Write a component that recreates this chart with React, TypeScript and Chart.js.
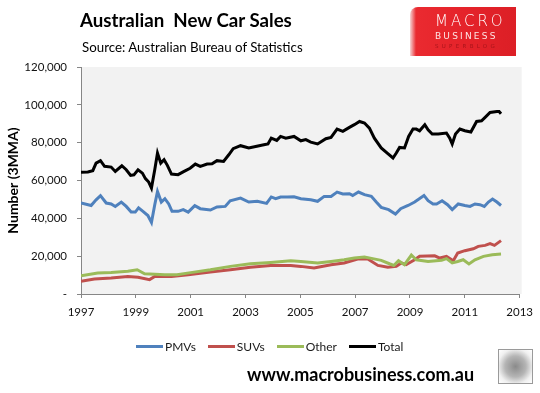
import React, { useEffect, useRef } from "react";
import { Chart, registerables } from "chart.js";

Chart.register(...registerables);

// ---- Data (3-month moving average) ----
const totalYears = [
  1997.0, 1997.25, 1997.43, 1997.55, 1997.71, 1997.86, 1998.1, 1998.25, 1998.49, 1998.65,
  1998.81, 1998.93, 1999.08, 1999.24, 1999.35, 1999.47, 1999.57, 1999.69, 1999.79, 1999.91,
  2000.03, 2000.15, 2000.3, 2000.54, 2000.76, 2000.98, 2001.17, 2001.35, 2001.6, 2001.78,
  2001.96, 2002.2, 2002.39, 2002.55, 2002.82, 2003.12, 2003.37, 2003.67, 2003.82, 2003.94,
  2004.14, 2004.28, 2004.47, 2004.77, 2005.02, 2005.2, 2005.38, 2005.63, 2005.93, 2006.12,
  2006.34, 2006.55, 2006.79, 2006.97, 2007.16, 2007.34, 2007.52, 2007.7, 2007.95, 2008.17,
  2008.38, 2008.5, 2008.62, 2008.8, 2008.95, 2009.11, 2009.23, 2009.35, 2009.54, 2009.66,
  2009.81, 2010.03, 2010.33, 2010.45, 2010.54, 2010.66, 2010.82, 2011.0, 2011.22, 2011.43,
  2011.61, 2011.74, 2011.92, 2012.17, 2012.25, 2012.32,
];
const totalValues = [
  64300, 64500, 65200, 69200, 70500, 67500, 67100, 64800, 67800, 65700,
  62700, 63000, 65700, 63900, 61000, 59200, 56000, 65700, 74500, 69200,
  71000, 68000, 63400, 63100, 64800, 66500, 68700, 67500, 68700, 68900,
  70500, 70100, 73600, 76800, 78400, 77200, 78000, 78900, 79300, 82400,
  81200, 83300, 82400, 83300, 81000, 81600, 80300, 79300, 82100, 82800,
  87200, 86000, 88100, 89500, 91200, 90400, 87700, 82400, 77200, 74500,
  71900, 74500, 77500, 77200, 83300, 87200, 87200, 86300, 89500, 86800,
  84600, 84600, 85100, 82400, 79300, 84600, 87200, 86300, 85600, 91200,
  91600, 93400, 96000, 96500, 96500, 95300,
];

const pmvYears = [
  1997.0, 1997.37, 1997.55, 1997.71, 1997.92, 1998.1, 1998.25, 1998.47, 1998.65, 1998.83,
  1998.98, 1999.1, 1999.26, 1999.44, 1999.57, 1999.69, 1999.79, 1999.93, 2000.06, 2000.2,
  2000.32, 2000.54, 2000.73, 2000.91, 2001.15, 2001.35, 2001.72, 2001.96, 2002.26, 2002.44,
  2002.82, 2003.12, 2003.43, 2003.77, 2003.94, 2004.1, 2004.28, 2004.53, 2004.77, 2005.02,
  2005.38, 2005.63, 2005.87, 2006.12, 2006.34, 2006.55, 2006.79, 2006.91, 2007.12, 2007.34,
  2007.59, 2007.77, 2007.95, 2008.22, 2008.47, 2008.66, 2008.93, 2009.17, 2009.51, 2009.66,
  2009.84, 2009.97, 2010.17, 2010.37, 2010.54, 2010.76, 2011.0, 2011.19, 2011.37, 2011.55,
  2011.71, 2011.86, 2012.01, 2012.17, 2012.32,
];
const pmvValues = [
  48100, 46800, 49800, 52000, 48100, 47600, 46300, 48600, 46300, 43300,
  43300, 45500, 43700, 41500, 37800, 47200, 54200, 48600, 50400, 47600,
  43700, 43700, 44600, 43300, 46700, 45100, 44400, 46000, 46300, 49300,
  50700, 48600, 49000, 47900, 51300, 50400, 51300, 51300, 51400, 50400,
  49800, 49000, 51600, 51600, 53900, 52900, 53000, 52100, 53900, 52500,
  51600, 48600, 45800, 44600, 42300, 45100, 46800, 48600, 52100, 49300,
  47600, 47600, 49300, 47200, 44600, 47600, 46800, 46300, 47600, 47200,
  46300, 48600, 50200, 48600, 46800,
];

const suvYears = [
  1997.0, 1997.49, 1998.1, 1998.71, 1999.08, 1999.5, 1999.69, 2000.3, 2000.91, 2001.72,
  2002.45, 2003.18, 2003.92, 2004.65, 2005.02, 2005.5, 2006.12, 2006.6, 2007.09, 2007.46,
  2007.83, 2008.19, 2008.5, 2008.68, 2008.86, 2009.17, 2009.35, 2009.9, 2010.09, 2010.33,
  2010.58, 2010.74, 2011.0, 2011.31, 2011.49, 2011.74, 2011.92, 2012.08, 2012.32,
];
const suvValues = [
  6700, 7900, 8500, 9300, 8800, 7600, 9300, 9300, 10200, 11600,
  12800, 14100, 15100, 15100, 14600, 13700, 15500, 16400, 18500, 18500,
  15100, 14100, 14600, 16400, 15500, 18100, 19900, 20200, 19000, 19900,
  17600, 21700, 22900, 23900, 25200, 25700, 26600, 25700, 28200,
];

const otherYears = [
  1997.0, 1997.61, 1998.1, 1998.71, 1999.05, 1999.32, 2000.06, 2000.5, 2001.0, 2001.72,
  2002.45, 2003.18, 2003.92, 2004.65, 2005.02, 2005.63, 2006.12, 2006.6, 2006.97, 2007.34,
  2007.64, 2007.95, 2008.25, 2008.41, 2008.58, 2008.8, 2009.05, 2009.23, 2009.66, 2010.15,
  2010.33, 2010.54, 2010.74, 2010.94, 2011.15, 2011.37, 2011.68, 2012.0, 2012.32,
];
const otherValues = [
  9700, 11100, 11400, 12000, 12800, 10700, 10200, 10200, 11300, 12800,
  14600, 16000, 16700, 17600, 17200, 16400, 17200, 18100, 19000, 19600,
  18700, 17800, 16000, 15100, 17600, 15500, 20600, 18100, 17200, 17800,
  18700, 16400, 17200, 18100, 15900, 18100, 19900, 20800, 21100,
];

const seriesNames = ["PMVs", "SUVs", "Other", "Total"];
const seriesColors = ["#4F81BD", "#C0504D", "#9BBB59", "#000000"];

const yMin = 0;
const yMax = 120000;
const yStep = 20000;
const xMin = 1997;
const xMax = 2013;
const xStep = 2;

const titleText = "Australian  New Car Sales";
const subtitleText = "Source: Australian Bureau of Statistics";
const yAxisTitle = "Number (3MMA)";
const siteText = "www.macrobusiness.com.au";

const FONT = "Lato, 'Open Sans', sans-serif";

function toPoints(xs: number[], ys: number[]) {
  return xs.map((x, i) => ({ x, y: ys[i] }));
}

const plotBg = {
  id: "plotBg",
  beforeDraw(chart: any) {
    const { ctx, chartArea } = chart;
    if (!chartArea) return;
    ctx.save();
    ctx.fillStyle = "#F2F2F2";
    ctx.fillRect(chartArea.left, chartArea.top, chartArea.right - chartArea.left + 2, chartArea.bottom - chartArea.top);
    ctx.restore();
  },
};

export default function App() {
  const canvasRef = useRef<HTMLCanvasElement | null>(null);

  useEffect(() => {
    if (!canvasRef.current) return;
    const seriesData = [
      toPoints(pmvYears, pmvValues),
      toPoints(suvYears, suvValues),
      toPoints(otherYears, otherValues),
      toPoints(totalYears, totalValues),
    ];
    const chart = new Chart(canvasRef.current, {
      type: "line",
      data: {
        datasets: seriesNames.map((name, i) => ({
          label: name,
          data: seriesData[i],
          borderColor: seriesColors[i],
          backgroundColor: seriesColors[i],
          borderWidth: 3,
          pointRadius: 0,
          tension: 0,
          fill: false,
          order: seriesNames.length - i,
        })),
      },
      options: {
        animation: false,
        responsive: false,
        layout: { padding: { left: 0, top: 67, right: 20, bottom: 69 } },
        plugins: {
          legend: { display: false },
          tooltip: { enabled: false },
        },
        scales: {
          x: {
            type: "linear",
            min: xMin,
            max: xMax,
            afterFit: (scale: any) => {
              scale.height = 30;
            },
            ticks: {
              stepSize: xStep,
              padding: 7,
              color: "#111",
              font: { family: FONT, size: 11.5 },
              callback: (v: any) => String(v),
            },
            grid: {
              drawOnChartArea: false,
              drawTicks: true,
              tickLength: 4,
              color: "#868686",
            },
            border: { color: "#868686", width: 1 },
          },
          y: {
            min: yMin,
            max: yMax,
            afterFit: (scale: any) => {
              scale.width = 81;
            },
            ticks: {
              stepSize: yStep,
              padding: 10,
              color: "#111",
              font: { family: FONT, size: 11.5 },
              callback: (v: any) => (v === 0 ? "-" : Number(v).toLocaleString("en-US")),
            },
            grid: {
              drawOnChartArea: false,
              drawTicks: true,
              tickLength: 4,
              color: "#868686",
            },
            border: { color: "#868686", width: 1 },
            title: {
              display: true,
              text: yAxisTitle,
              color: "#000",
              font: { family: FONT, size: 14, weight: "bold" },
              padding: { top: 5, bottom: 0 },
            },
          },
        },
      },
      plugins: [plotBg],
    });
    return () => chart.destroy();
  }, []);

  const legendItem = (name: string, color: string) => (
    <div key={name} style={{ display: "flex", alignItems: "center", marginRight: 12 }}>
      <div style={{ width: 27, height: 3, background: color, marginRight: 2 }} />
      <span style={{ fontFamily: FONT, fontSize: 12, color: "#1a1a1a" }}>{name}</span>
    </div>
  );

  return (
    <div style={{ position: "absolute", left: 0, top: 0, width: 540, height: 393, background: "#fff", overflow: "hidden" }}>
      <canvas ref={canvasRef} width={540} height={393} style={{ position: "absolute", left: 0, top: 0, width: 540, height: 393 }} />
      <div style={{ position: "absolute", left: 80, top: 8, fontFamily: FONT, fontWeight: 700, fontSize: 18.7, color: "#000", whiteSpace: "pre", lineHeight: "24px" }}>
        {titleText}
      </div>
      <div style={{ position: "absolute", left: 82, top: 38, fontFamily: FONT, fontSize: 13.3, color: "#000", whiteSpace: "pre", lineHeight: "18px" }}>
        {subtitleText}
      </div>
      {/* logo */}
      <div
        style={{
          position: "absolute",
          left: 410,
          top: 7,
          width: 106,
          height: 49,
          borderTopLeftRadius: 8,
          background: "linear-gradient(to right, #f6d4d5 0px, #ea2a30 6px, #e5232a 50%, #dc1f26 100%)",
        }}
      >
        <div style={{ position: "absolute", left: 25, top: 6, fontFamily: "'DejaVu Sans', sans-serif", fontWeight: 300, fontSize: 15, letterSpacing: 3, color: "#fff", lineHeight: "16px" }}>
          MACRO
        </div>
        <div style={{ position: "absolute", left: 25, top: 24, fontFamily: "'DejaVu Sans', sans-serif", fontSize: 9, letterSpacing: 2.2, color: "#fde5e5", lineHeight: "10px" }}>
          BUSINESS
        </div>
        <div style={{ position: "absolute", left: 25, top: 36, fontFamily: "'DejaVu Sans', sans-serif", fontSize: 5.5, letterSpacing: 3.3, color: "#a8141a", lineHeight: "7px" }}>
          SUPERBLOG
        </div>
      </div>
      {/* legend */}
      <div style={{ position: "absolute", left: 136, top: 338, display: "flex", alignItems: "center", height: 16 }}>
        {seriesNames.map((n, i) => legendItem(n, seriesColors[i]))}
      </div>
      <div style={{ position: "absolute", left: 247, top: 363, fontFamily: FONT, fontWeight: 700, fontSize: 18, color: "#000", whiteSpace: "pre", lineHeight: "22px" }}>
        {siteText}
      </div>
      {/* wolf badge */}
      <div
        style={{
          position: "absolute",
          left: 498,
          top: 349,
          width: 33,
          height: 33,
          border: "1px solid #9a9a9a",
          background: "radial-gradient(ellipse at 50% 50%, #8a8a8a 0%, #b5b5b5 45%, #f0f0f0 75%, #ffffff 100%)",
        }}
      />
    </div>
  );
}
